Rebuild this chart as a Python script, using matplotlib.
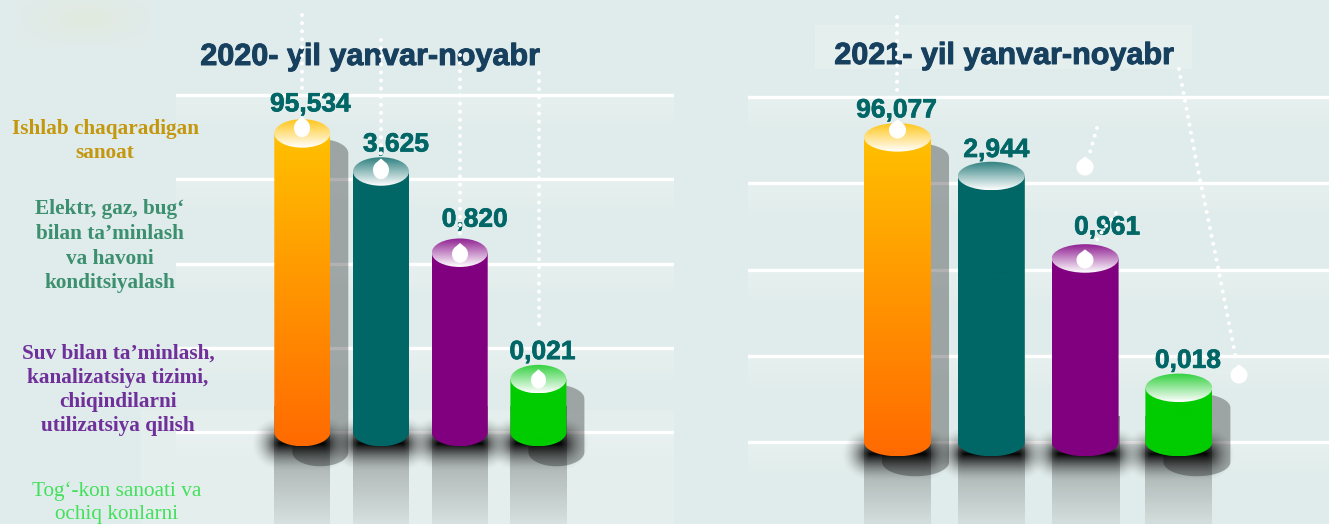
import numpy as np
import matplotlib
matplotlib.use('Agg')
import matplotlib.pyplot as plt
import matplotlib.patheffects as pe
from matplotlib.patches import Ellipse, Polygon, Rectangle

W, H = 1329, 524

# values printed on the bars
values_2020 = [95.534, 3.625, 0.820, 0.021]
values_2021 = [96.077, 2.944, 0.961, 0.018]
# the picture does not draw bars to scale, so these are heights read off the gridlines
heights_2020 = [88.6, 77.3, 53.2, 15.7]
heights_2021 = [88.3, 77.1, 53.2, 15.7]
grid_ticks = [0, 25, 50, 75, 100]
title_2020 = '2020- yil yanvar-noyabr'
title_2021 = '2021- yil yanvar-noyabr'

body_top = ['#FFC000', '#006666', '#800080', '#00CC00']
body_bottom = ['#FF6A00', '#006666', '#800080', '#00CC00']
cap_color = ['#FFC61A', '#2E7F7F', '#8F1F92', '#2FD03C']
has_shadow = [True, False, False, True]

bg_color = '#E0ECEB'


def hex_rgb(c):
    return np.array(matplotlib.colors.to_rgb(c))


def gradient(ax, c1, c2, extent, clip=None, z=3, n=128):
    t = np.linspace(0, 1, n)[:, None, None]
    img = (1 - t) * hex_rgb(c1)[None, None, :] + t * hex_rgb(c2)[None, None, :]
    im = ax.imshow(img, extent=extent, aspect='auto', zorder=z, origin='upper')
    if clip is not None:
        im.set_clip_path(clip)
    return im


def alpha_fade(ax, rgb, a1, a2, extent, z=1, n=128):
    t = np.linspace(0, 1, n)
    img = np.zeros((n, 1, 4))
    img[:, 0, :3] = hex_rgb(rgb)
    img[:, 0, 3] = a1 + (a2 - a1) * t
    ax.imshow(img, extent=extent, aspect='auto', zorder=z, origin='upper')


def draw_chart(ax, values, heights, px_x, px_y, w_px):
    # px_x = pixels per category, px_y = pixels per height unit
    w = w_px / px_x
    cap_h = 28.5 / px_y
    dx = 18 / px_x
    dy = 20 / px_y
    for t in grid_ticks:
        ax.axhline(t, color='white', lw=2.4, zorder=1)
        alpha_fade(ax, 'white', 0.22, 0.0, (ax.get_xlim()[0], ax.get_xlim()[1], t - 36 / px_y, t), z=0.5)
    for i, h in enumerate(heights):
        x0, x1 = i - w / 2, i + w / 2
        # reflection below the bar
        alpha_fade(ax, 'black', 0.40, 0.06, (x0, x1, ax.get_ylim()[0], 7.5), z=1.5)
        # soft dark pool at the foot
        pad_x = 24 / px_x
        xs = np.linspace(x0 - pad_x, x1 + pad_x, 160)
        ys = np.linspace(-42 / px_y, 18 / px_y, 100)
        xx, yy = np.meshgrid(xs, ys)
        ex = np.clip(np.abs(xx - i) - w / 2 + 6 / px_x, 0, None) / (pad_x + 6 / px_x)
        ey = np.abs(yy + 12 / px_y) / (28 / px_y)
        d = np.clip(np.sqrt(ex ** 2 + ey ** 2), 0, 1)
        img = np.zeros(xx.shape + (4,))
        img[..., 3] = 0.98 * (1 - d) ** 1.8
        ax.imshow(img, extent=(xs[0], xs[-1], ys[0], ys[-1]), aspect='auto', zorder=2, origin='lower')
        # cast shadow, only on the outer bars
        if has_shadow[i]:
            ang = np.linspace(np.pi, 2 * np.pi, 60)
            sx = list(i + dx + w / 2 * np.cos(ang)) + [i + dx + w / 2 * np.cos(a) for a in ang[::-1]]
            sy = list(-dy + cap_h / 2 * np.sin(ang)) + [h - dy - cap_h / 2 * np.sin(a) for a in ang[::-1]]
            ax.add_patch(Polygon(np.column_stack([sx, sy]), closed=True, fc='black', ec='none', alpha=0.3, zorder=2.2))
        # cylinder body
        ang = np.linspace(np.pi, 2 * np.pi, 60)
        bx = list(i + w / 2 * np.cos(ang)) + [x1, x0]
        by = list(cap_h / 2 * np.sin(ang)) + [h, h]
        body = Polygon(np.column_stack([bx, by]), closed=True, fc='none', ec='none', zorder=3)
        ax.add_patch(body)
        gradient(ax, body_top[i], body_bottom[i], (x0, x1, -cap_h / 2, h), clip=body, z=3)
        # lit top
        cap = Ellipse((i, h), w, cap_h, fc='none', ec='none', zorder=4)
        ax.add_patch(cap)
        gradient(ax, cap_color[i], '#FFFFFF', (x0, x1, h - cap_h / 2, h + cap_h / 2), clip=cap, z=4)


def make_axes(x0, x1, center, step):
    ax = fig.add_axes([x0 / W, 0, (x1 - x0) / W, 1])
    ax.set_facecolor('none')
    ax.axis('off')
    ax.set_xlim((x0 - center) / step, (x1 - center) / step)
    return ax


def value_labels(ax, values, heights, offsets):
    for i, v in enumerate(values):
        label = f'{v:.3f}'.replace('.', ',')
        t = ax.annotate(label, (i, heights[i]), xytext=offsets[i], textcoords='offset pixels',
                        ha='center', va='center', fontsize=19, fontweight='bold',
                        family='Liberation Sans', color='#006666', zorder=8)
        t.set_path_effects([pe.withStroke(linewidth=0.5, foreground='#006666')])


fig = plt.figure(figsize=(W / 100, H / 100), dpi=100, facecolor=bg_color)

# page background in pixel coordinates
bg = fig.add_axes([0, 0, 1, 1], zorder=0)
bg.set_xlim(0, W)
bg.set_ylim(H, 0)
bg.axis('off')
bg.add_patch(Rectangle((815, 25), 377, 44, fc='#E4EFEE', ec='none'))
bg.add_patch(Rectangle((141, 410), 533, 114, fc='#E3EEED', ec='none'))
yy, xx = np.mgrid[0:46, 20:150]
blob = np.exp(-(((xx - 85) / 42.0) ** 2 + ((yy - 18) / 18.0) ** 2))
img = np.zeros(blob.shape + (4,))
img[..., :3] = hex_rgb('#E6E6C8')
img[..., 3] = 0.35 * blob
bg.imshow(img, extent=(20, 150, 46, 0), aspect='auto')
bg.set_xlim(0, W)
bg.set_ylim(H, 0)

# left chart: gridlines 95..432 px
ax1 = make_axes(176, 674, 302.3, 78.7)
ax1.set_zorder(1)
sc1 = (432 - 95) / 100
ax1.set_ylim(-(H - 432) / sc1, 432 / sc1)
xl, yl = ax1.get_xlim(), ax1.get_ylim()
draw_chart(ax1, values_2020, heights_2020, 78.7, sc1, 56)
ax1.set_xlim(xl)
ax1.set_ylim(yl)
value_labels(ax1, values_2020, heights_2020, [(8, 29), (15, 27), (15, 33), (4, 27)])

# right chart: gridlines 97..442 px
ax2 = make_axes(748, 1329, 897.5, 93.8)
ax2.set_zorder(1)
sc2 = (442 - 97) / 100
ax2.set_ylim(-(H - 442) / sc2, 442 / sc2)
xl, yl = ax2.get_xlim(), ax2.get_ylim()
draw_chart(ax2, values_2021, heights_2021, 93.8, sc2, 67)
ax2.set_xlim(xl)
ax2.set_ylim(yl)
value_labels(ax2, values_2021, heights_2021, [(-1, 27), (5, 26), (22, 31), (9, 27)])

# overlay for titles, side text, leader dots
top = fig.add_axes([0, 0, 1, 1], zorder=3)
top.set_xlim(0, W)
top.set_ylim(H, 0)
top.axis('off')
top.set_facecolor('none')

title_font = dict(family='Liberation Sans', fontweight='bold', fontsize=22, color='#17405F', ha='center', va='center')
for tx, ty, s in [(370, 57, title_2020), (1004, 56, title_2021)]:
    t = top.text(tx, ty, s, **title_font)
    t.set_path_effects([pe.withStroke(linewidth=0.7, foreground='#17405F')])

side_labels = [
    (105, [129, 153], ['Ishlab chaqaradigan', 'sanoat'], '#C4980E', 'bold'),
    (110, [209, 234, 259, 283], ['Elektr, gaz, bug‘', 'bilan ta’minlash', 'va havoni', 'konditsiyalash'], '#3C9070', 'bold'),
    (118, [354, 378, 402, 426], ['Suv bilan ta’minlash,', 'kanalizatsiya tizimi,', 'chiqindilarni', 'utilizatsiya qilish'], '#70309A', 'bold'),
    (117, [491, 515], ['Tog‘-kon sanoati va', 'ochiq konlarni'], '#44E05C', 'normal'),
]
for cx, ys, lines, col, weight in side_labels:
    for y, line in zip(ys, lines):
        top.text(cx, y, line, family='Liberation Serif', fontsize=15.3, fontweight=weight,
                 color=col, ha='center', va='center')

leaders = [
    ([302, 302], [15, 88]), ([381, 381], [40, 155]), ([460, 460], [55, 235]), ([538.5, 538.5], [73, 332]),
    ([897, 897], [17, 90]),
    ([1097, 1088], [128, 159]),
    ([1116, 1103, 1093], [213, 230, 246]),
    ([1179, 1197, 1216, 1236], [69, 165, 257, 359]),
]
for xs, ys in leaders:
    top.plot(xs, ys, color='white', lw=2.9, linestyle=(0, (0.01, 2.0)), dash_capstyle='round', zorder=5)

# x, y, radius, vertical stretch
pins = [(302, 128, 8, 1.15), (381, 170, 8, 1.15), (460, 254, 8, 1.1), (538.5, 380, 7.5, 1.15),
        (897.5, 130, 8.5, 1.0), (1085, 167, 8.5, 1.0), (1085, 260, 8.5, 1.0), (1239, 375, 8.5, 1.0)]
for px, py, r, st in pins:
    ang = np.linspace(-np.pi / 2 + 0.5, 3 * np.pi / 2 - 0.5, 50)
    xs = np.r_[px + r * np.cos(ang), px]
    ys = np.r_[py + st * r * np.sin(ang), py - 1.25 * st * r]
    top.fill(xs, ys, color='white', lw=0, zorder=6)

plt.savefig('out.png', dpi=100, facecolor=bg_color)
